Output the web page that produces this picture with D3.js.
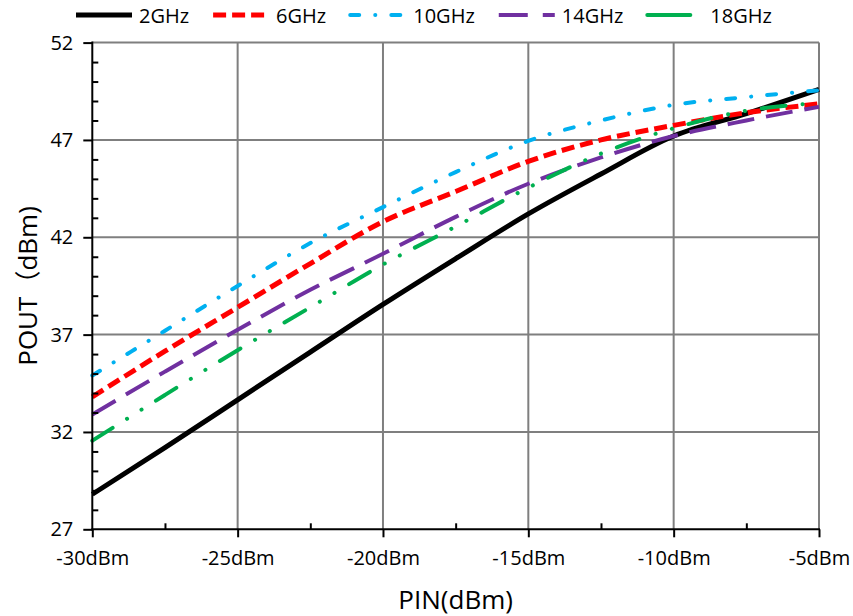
<!DOCTYPE html>
<html>
<head>
<meta charset="utf-8">
<script src="https://cdn.jsdelivr.net/npm/d3@7"></script>
<style>
  html, body { margin: 0; padding: 0; background: #ffffff; }
  svg { display: block; font-family: "Open Sans", "Noto Sans", sans-serif; }
</style>
</head>
<body>
<svg id="chart" width="853" height="616"></svg>
<script>
// Input power sweep (dBm)
const pin = [-30, -27.5, -25, -22.5, -20, -17.5, -15, -12.5, -10, -7.5, -5];

// Output power (dBm) per frequency
const pout2GHz  = [28.8, 31.2, 33.65, 36.1, 38.55, 40.9, 43.2, 45.25, 47.2, 48.35, 49.6];
const pout6GHz  = [33.8, 36.15, 38.4, 40.65, 42.8, 44.35, 45.9, 47.0, 47.75, 48.4, 48.85];
const pout10GHz = [34.9, 37.2, 39.5, 41.7, 43.55, 45.35, 46.95, 48.0, 48.8, 49.2, 49.55];
const pout14GHz = [32.9, 35.1, 37.25, 39.3, 41.15, 43.05, 44.75, 46.1, 47.2, 48.0, 48.7];
const pout18GHz = [31.55, 33.9, 36.2, 38.4, 40.6, 42.55, 44.55, 46.3, 47.6, 48.5, 48.9];

const seriesNames = ["2GHz", "6GHz", "10GHz", "14GHz", "18GHz"];
const seriesValues = [pout2GHz, pout6GHz, pout10GHz, pout14GHz, pout18GHz];

// Axis ticks
const xTicks = [-30, -25, -20, -15, -10, -5];
const xMinorTicks = [-27.5, -22.5, -17.5, -12.5, -7.5];
const yTicks = [27, 32, 37, 42, 47, 52];

// Line styling per series
const styles = [
  { color: "#000000", width: 5,   dash: null,               cap: "butt",  legendDash: null },
  { color: "#FF0000", width: 5,   dash: "13,6",             cap: "butt",  legendDash: "13,6" },
  { color: "#00B0F0", width: 4,   dash: "9,16,0.1,16",      cap: "round", legendDash: "9,16,0.1,16" },
  { color: "#7030A0", width: 4,   dash: "27,12",            cap: "butt",  legendDash: "29,15" },
  { color: "#00B050", width: 4,   dash: "24,17,0.1,17,0.1,17", cap: "round", legendDash: "43,17,0.1,40" }
];

const svg = d3.select("#chart");
const margin = { left: 92.3, right: 34, top: 42.6, bottom: 86.7 };
const W = 853, H = 616;
const x = d3.scaleLinear().domain([-30, -5]).range([margin.left, W - margin.right]);
const y = d3.scaleLinear().domain([27, 52]).range([H - margin.bottom, margin.top]);

const gridColor = "#7f7f7f";

// Grid lines
const grid = svg.append("g");
grid.selectAll("line.v").data(xTicks.slice(1)).join("line")
  .attr("x1", d => x(d)).attr("x2", d => x(d))
  .attr("y1", y(27)).attr("y2", y(52))
  .attr("stroke", gridColor).attr("stroke-width", 2);
grid.selectAll("line.h").data(yTicks.slice(1)).join("line")
  .attr("x1", x(-30)).attr("x2", x(-5))
  .attr("y1", d => y(d)).attr("y2", d => y(d))
  .attr("stroke", gridColor).attr("stroke-width", 2);

// Series lines
const line = d3.line().x((d, i) => x(pin[i])).y(d => y(d)).curve(d3.curveMonotoneX);
seriesValues.forEach((vals, k) => {
  const s = styles[k];
  svg.append("path")
    .attr("d", line(vals))
    .attr("fill", "none")
    .attr("stroke", s.color)
    .attr("stroke-width", s.width)
    .attr("stroke-linecap", s.cap)
    .attr("stroke-linejoin", "round")
    .attr("stroke-dasharray", s.dash);
});

// Left axis with major ticks outside
const yAxis = svg.append("g")
  .attr("transform", `translate(${x(-30)},0)`)
  .call(d3.axisLeft(y).tickValues(yTicks).tickSize(9).tickPadding(10).tickFormat(d3.format("d")));
// Minor ticks inside, every 1 dBm
const yMinor = d3.range(28, 52).filter(v => !yTicks.includes(v));
svg.append("g")
  .attr("transform", `translate(${x(-30)},0)`)
  .call(d3.axisRight(y).tickValues(yMinor).tickSize(6).tickFormat(""));

// Bottom axis with major ticks outside
const xAxis = svg.append("g")
  .attr("transform", `translate(0,${y(27)})`)
  .call(d3.axisBottom(x).tickValues(xTicks).tickSize(8).tickPadding(14).tickFormat(d => d + "dBm"));
svg.append("g")
  .attr("transform", `translate(0,${y(27)})`)
  .call(d3.axisTop(x).tickValues(xMinorTicks).tickSize(6).tickFormat(""));

svg.selectAll(".domain").remove();
svg.selectAll(".tick line").attr("stroke", "#000").attr("stroke-width", 2);
svg.selectAll(".tick text")
  .attr("fill", "#000")
  .style("font-family", '"Open Sans", sans-serif')
  .style("font-size", "20px");

// Axis lines
svg.append("line").attr("x1", x(-30)).attr("x2", x(-30)).attr("y1", y(52) - 1).attr("y2", y(27) + 1)
  .attr("stroke", "#000").attr("stroke-width", 2);
svg.append("line").attr("x1", x(-30) - 1).attr("x2", x(-5) + 1).attr("y1", y(27)).attr("y2", y(27))
  .attr("stroke", "#000").attr("stroke-width", 2);

// Axis titles
svg.append("text")
  .attr("x", (x(-30) + x(-5)) / 2).attr("y", 609)
  .attr("text-anchor", "middle")
  .style("font-size", "26px")
  .text("PIN(dBm)");
svg.append("text")
  .attr("transform", `translate(37,${(y(27) + y(52)) / 2}) rotate(-90)`)
  .attr("text-anchor", "middle")
  .style("font-size", "26px")
  .style("font-family", '"Open Sans", "Noto Sans CJK SC", sans-serif')
  .text("POUT（dBm)");

// Legend across the top
const legend = svg.append("g");
let lx = 76;
seriesNames.forEach((name, k) => {
  const s = styles[k];
  legend.append("line")
    .attr("x1", lx).attr("x2", lx + 56).attr("y1", 15).attr("y2", 15)
    .attr("stroke", s.color).attr("stroke-width", s.width)
    .attr("stroke-linecap", s.cap)
    .attr("stroke-dasharray", s.legendDash);
  const t = legend.append("text")
    .attr("x", lx + 63).attr("y", 22.5)
    .style("font-size", "20px")
    .text(name);
  lx += 63 + t.node().getComputedTextLength() + 24;
});
</script>
</body>
</html>
